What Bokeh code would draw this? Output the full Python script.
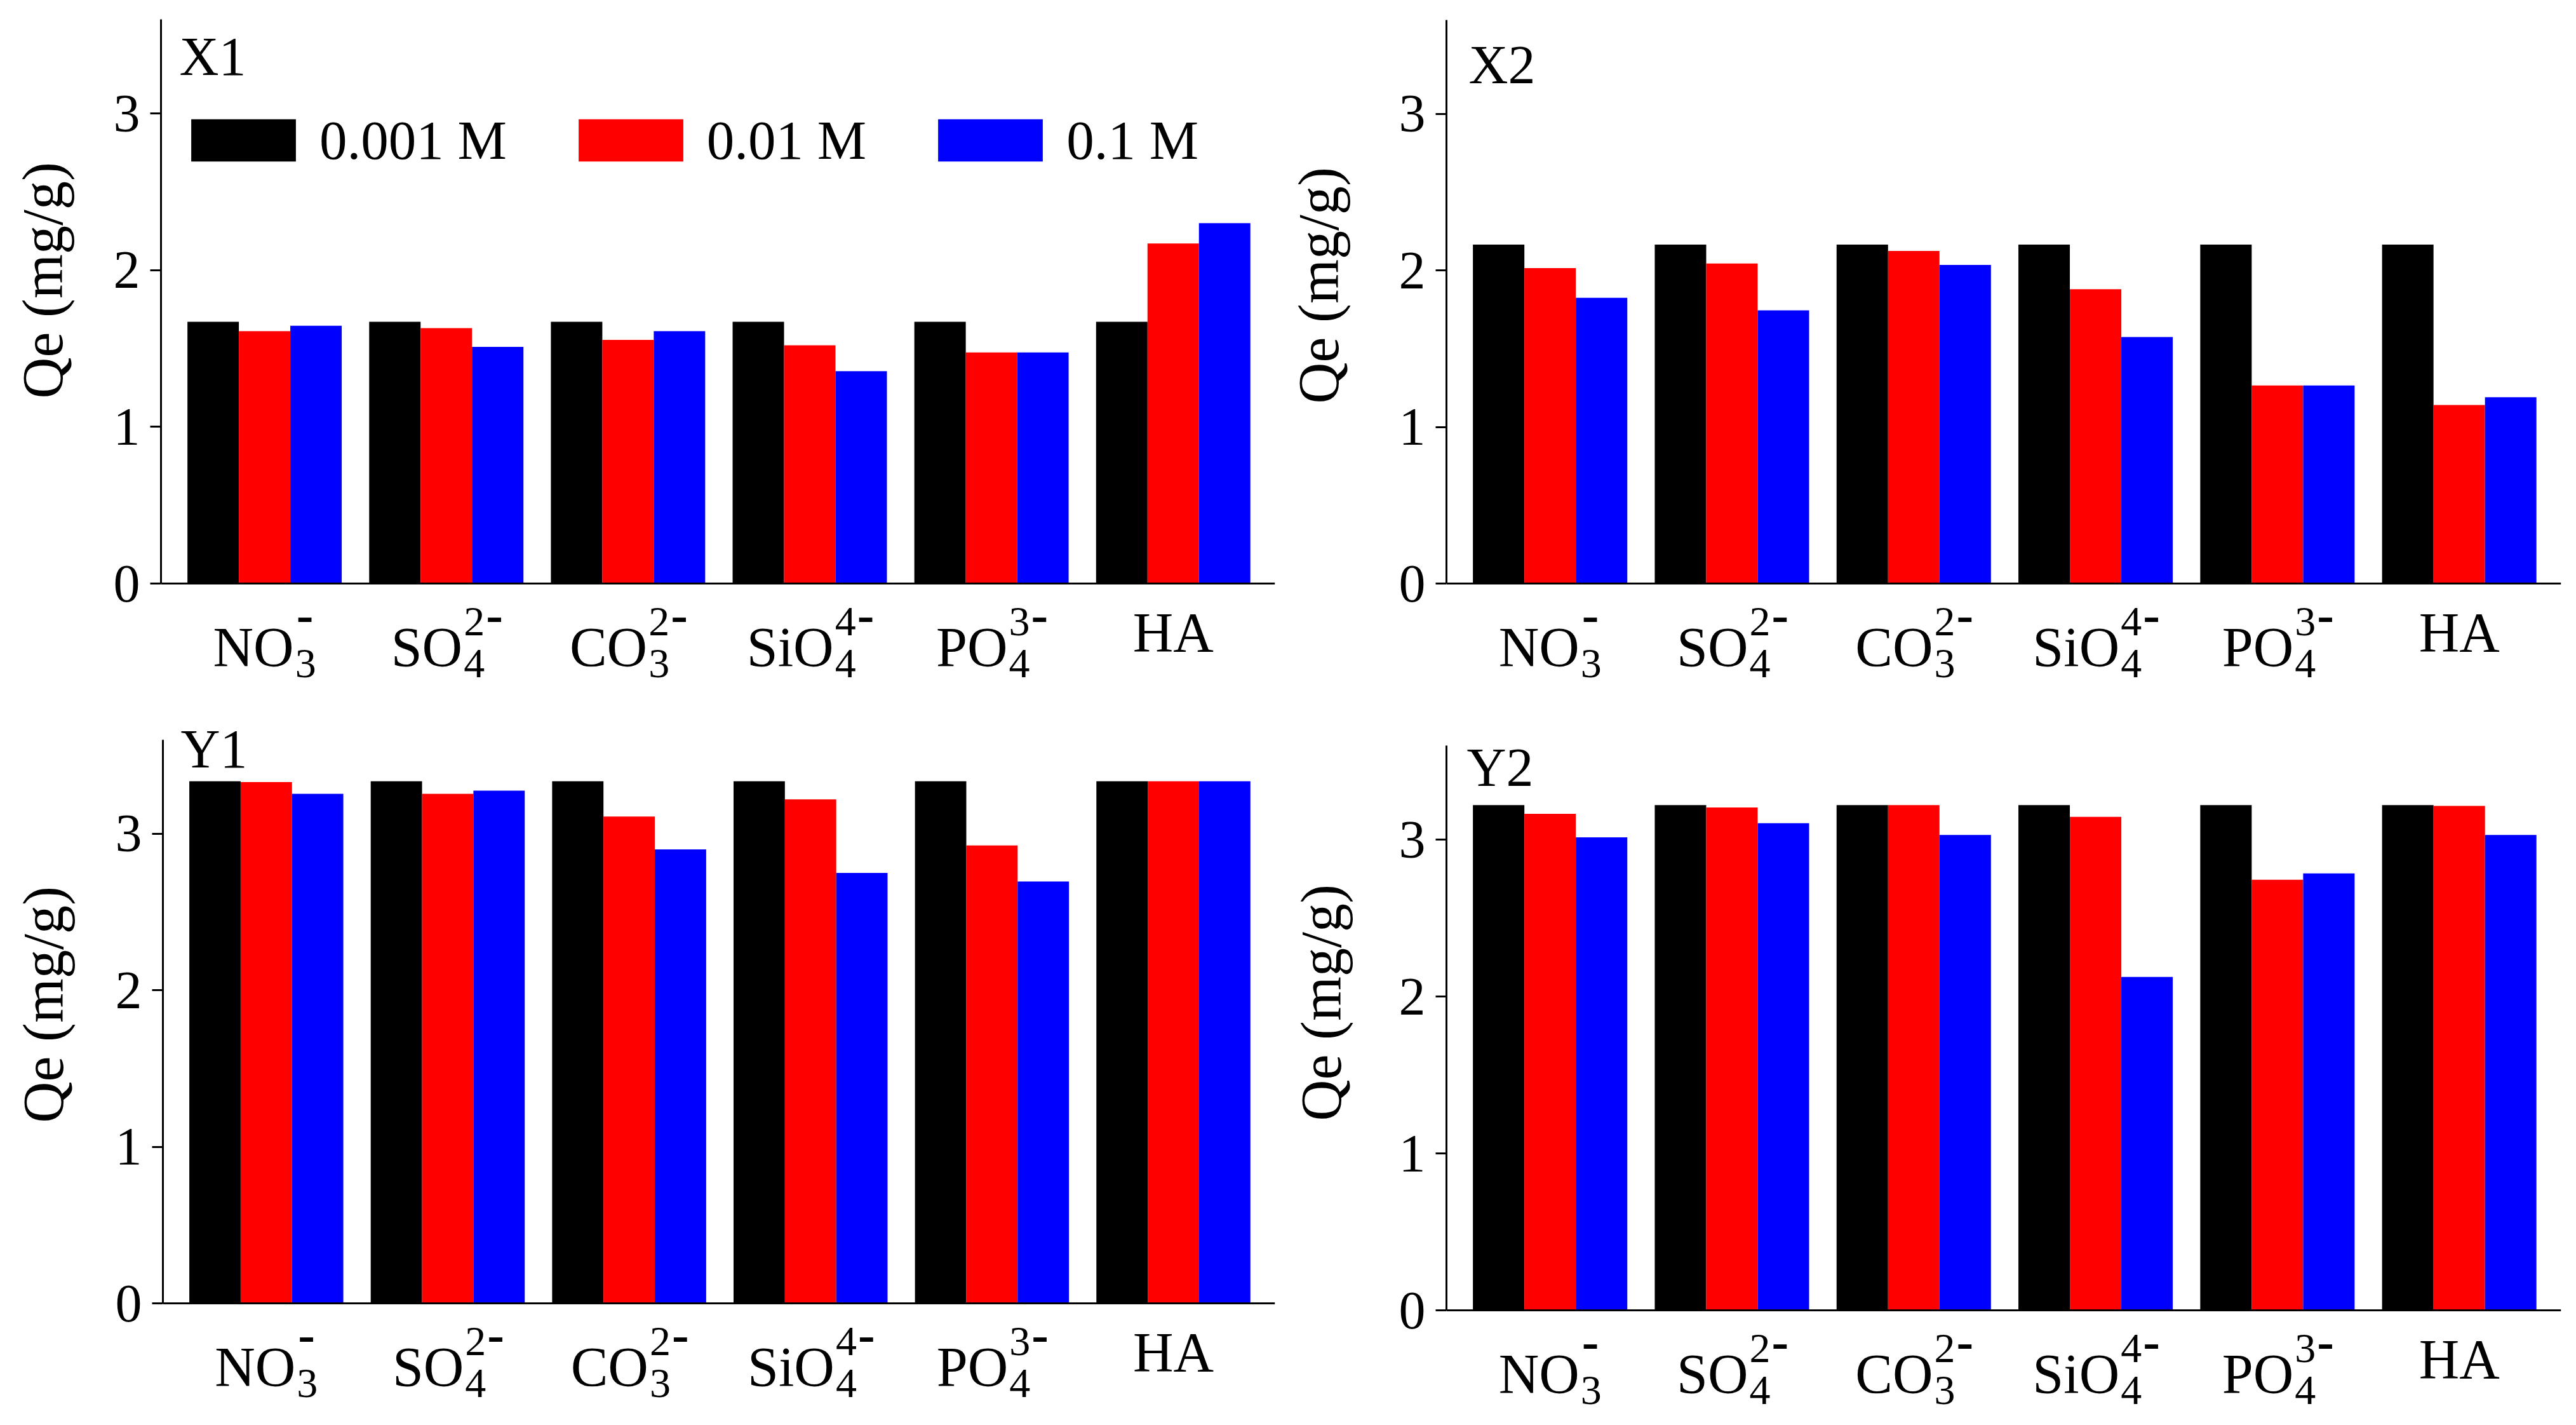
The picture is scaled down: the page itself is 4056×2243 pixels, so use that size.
import numpy as np
from bokeh.plotting import figure
from bokeh.models import (Range1d, FixedTicker, Label, Legend, LegendItem,
                          ColumnDataSource, Span, Title)
from bokeh.layouts import row, column
from bokeh.embed import file_html
from bokeh.resources import INLINE

# ---------------- data ----------------
CAT_BASE = ["NO", "SO", "CO", "SiO", "PO", "HA"]
CAT_SUB = ["3", "4", "3", "4", "4", ""]
CAT_SUP = ["", "2", "2", "4", "3", ""]
CAT_CHARGE = ["-", "-", "-", "-", "-", ""]
SERIES = ["0.001 M", "0.01 M", "0.1 M"]
COLORS = ["#000000", "#ff0000", "#0000ff"]
Y_TICKS = [0, 1, 2, 3]
PANEL_NAMES = ["X1", "X2", "Y1", "Y2"]
Y_LABEL = "Qe (mg/g)"

X1_0001 = [1.67, 1.67, 1.67, 1.67, 1.67, 1.67]
X1_001 = [1.61, 1.63, 1.555, 1.52, 1.475, 2.17]
X1_01 = [1.645, 1.51, 1.61, 1.355, 1.475, 2.30]

X2_0001 = [2.165, 2.165, 2.165, 2.165, 2.165, 2.165]
X2_001 = [2.015, 2.045, 2.125, 1.88, 1.265, 1.14]
X2_01 = [1.825, 1.745, 2.035, 1.575, 1.265, 1.19]

Y1_0001 = [3.335, 3.335, 3.335, 3.335, 3.335, 3.335]
Y1_001 = [3.33, 3.255, 3.11, 3.22, 2.925, 3.335]
Y1_01 = [3.255, 3.275, 2.90, 2.75, 2.695, 3.335]

Y2_0001 = [3.22, 3.22, 3.22, 3.22, 3.22, 3.22]
Y2_001 = [3.165, 3.205, 3.22, 3.145, 2.745, 3.215]
Y2_01 = [3.015, 3.105, 3.03, 2.125, 2.785, 3.03]

PANEL_DATA = [
    [X1_0001, X1_001, X1_01],
    [X2_0001, X2_001, X2_01],
    [Y1_0001, Y1_001, Y1_01],
    [Y2_0001, Y2_001, Y2_01],
]

# ---------------- style / layout ----------------
FONT = "Liberation Serif"
X_START, X_END = -0.57, 5.56
Y_MIN, Y_MAX = 0.0, 3.6
BAR_W = 0.283
FIG_W = 2020
FIG_H = [1110, 1110, 1117, 1117]
# (y-axis px from fig left, right border, axis top px, axis bottom px,
#  title dx, title baseline, y-label offset from fig bottom, y-label gap)
LAYOUT = [
    (253, 13, 30, 918, 29, 58, 483, 43),
    (257, 8, 31, 918, 35, 70, 475, 58),
    (256, 13, 54, 941, 28, 14, 460, 45),
    (257, 8, 63, 952, 32, 34, 463, 54),
]
FB, FS, FD = 88, 66, 80   # base, sub/sup, charge font sizes (px)
# distances (px) of label baselines below the x axis
D_BASE, D_PLAIN, D_SUB, D_SUP, D_CHG = 100, 77, 126, 60, 50
W_EM = {"N": .722, "O": .722, "S": .556, "C": .667, "i": .278, "P": .556,
        "H": .722, "A": .722}


def text_w(s, f):
    return sum(W_EM.get(c, 0.5) for c in s) * f


def make_panel(k):
    yax, br, atop, abot, tdx, tby, ylo, ygap = LAYOUT[k]
    fh = FIG_H[k]
    bl = yax
    fw = FIG_W - bl - br
    ppx = fw / (X_END - X_START)
    ppu = (abot - atop) / (Y_MAX - Y_MIN)
    y_start = Y_MIN - (fh - abot) / ppu
    y_end = Y_MAX + atop / ppu
    p = figure(width=FIG_W, height=fh, x_range=Range1d(X_START, X_END),
               y_range=Range1d(y_start, y_end), output_backend="svg",
               toolbar_location=None, x_axis_location=None,
               min_border_left=bl, min_border_right=br,
               min_border_top=0, min_border_bottom=0)
    p.outline_line_color = None
    p.grid.visible = False
    p.background_fill_color = "white"

    idx = np.arange(len(CAT_BASE))
    renderers = []
    for j, (vals, col) in enumerate(zip(PANEL_DATA[k], COLORS)):
        src = ColumnDataSource(dict(x=idx + (j - 1) * BAR_W, top=vals))
        r = p.vbar(x="x", top="top", width=BAR_W, bottom=0, source=src,
                   fill_color=col, line_color=None)
        renderers.append(r)

    # x axis line
    p.add_layout(Span(location=0, dimension="width", line_color="black",
                      line_width=3))

    # y axis
    yaxis = p.yaxis[0]
    yaxis.bounds = (Y_MIN, Y_MAX)
    yaxis.ticker = FixedTicker(ticks=Y_TICKS)
    yaxis.axis_line_width = 3
    yaxis.major_tick_line_width = 3
    yaxis.major_tick_in = 0
    yaxis.major_tick_out = 17
    yaxis.minor_tick_line_color = None
    yaxis.major_label_text_font = FONT
    yaxis.major_label_text_font_size = "84px"
    yaxis.major_label_text_color = "black"
    yaxis.major_label_standoff = 16
    # blank spacer label: keeps the gap between tick labels and the y title
    yaxis.axis_label = " "
    yaxis.axis_label_text_font_size = "10px"
    yaxis.axis_label_standoff = ygap

    # y axis title (placed along the 0..3.6 part of the axis)
    p.add_layout(Title(text=Y_LABEL, align="left", offset=ylo, standoff=4,
                       text_font=FONT, text_font_style="normal",
                       text_font_size="90px", text_color="black"), "left")

    # category labels with sub / superscripts
    for i in range(len(CAT_BASE)):
        base, sub, sup, chg = CAT_BASE[i], CAT_SUB[i], CAT_SUP[i], CAT_CHARGE[i]
        bw = text_w(base, FB)
        subw = 0.5 * FS * len(sub)
        supw = 0.5 * FS * len(sup)
        chw = 0.333 * FD if chg else 0
        colw = max(subw, supw + chw)
        total = bw + (colw + 2 if colw else 0)
        x0 = i - total / 2 / ppx
        base_y = D_PLAIN if not (sub or sup or chg) else D_BASE
        p.add_layout(Label(x=x0, y=-base_y / ppu, text=base, text_font=FONT,
                           text_font_size=f"{FB}px", text_align="left",
                           text_baseline="alphabetic", text_color="black"))
        xs = x0 + (bw + 2) / ppx
        if sub:
            p.add_layout(Label(x=xs, y=-D_SUB / ppu, text=sub, text_font=FONT,
                               text_font_size=f"{FS}px", text_align="left",
                               text_baseline="alphabetic", text_color="black"))
        if sup:
            p.add_layout(Label(x=xs, y=-D_SUP / ppu, text=sup, text_font=FONT,
                               text_font_size=f"{FS}px", text_align="left",
                               text_baseline="alphabetic", text_color="black"))
        if chg:
            p.add_layout(Label(x=xs + (supw + 2) / ppx, y=-D_CHG / ppu, text=chg,
                               text_font=FONT, text_font_style="bold",
                               text_font_size=f"{FD}px", text_align="left",
                               text_baseline="alphabetic", text_color="black"))

    # panel title
    p.add_layout(Label(x=X_START + tdx / ppx, y=Y_MAX - tby / ppu,
                       text=PANEL_NAMES[k], text_font=FONT, text_font_size="86px",
                       text_align="left", text_baseline="alphabetic",
                       text_color="black"))

    if k == 0:
        legend = Legend(
            items=[LegendItem(label=s, renderers=[r]) for s, r in zip(SERIES, renderers)],
            orientation="horizontal", location=(27, 839),
            glyph_width=206, glyph_height=83, label_standoff=17, spacing=92,
            padding=0, margin=0, border_line_color=None, background_fill_alpha=0,
            label_text_font=FONT, label_text_font_size="87px",
            label_text_color="black")
        p.add_layout(legend)
    return p


panels = [make_panel(k) for k in range(4)]
layout = column(row(panels[0], panels[1], spacing=0),
                row(panels[2], panels[3], spacing=0), spacing=0)

open("out.html", "w").write(file_html(layout, INLINE))
